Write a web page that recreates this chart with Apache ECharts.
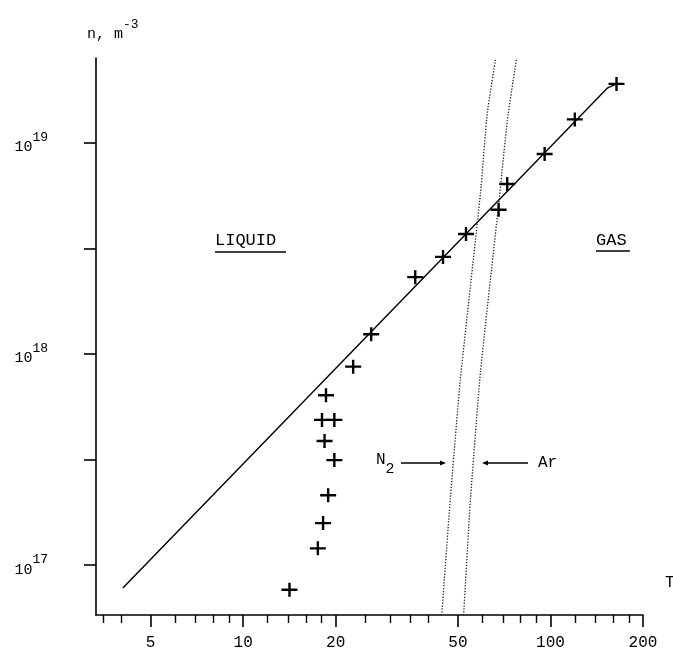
<!DOCTYPE html>
<html>
<head>
<meta charset="utf-8">
<script src="https://cdn.jsdelivr.net/npm/echarts@6/dist/echarts.min.js"></script>
<style>
html,body{margin:0;padding:0;background:#fff;}
#chart{width:673px;height:654px;}
</style>
</head>
<body>
<div id="chart"></div>
<script>
//测量点 T, n(m^-3)
var pointT = [164, 120, 95.7, 72.3, 67.8, 53.1, 44.7, 36.3, 26.1, 22.8, 18.6, 18.05, 19.8, 18.4, 19.8, 18.9, 18.2, 17.5, 14.15];
var pointN = [1.90e19, 1.29e19, 8.85e18, 6.38e18, 4.82e18, 3.70e18, 2.88e18, 2.31e18, 1.24e18, 8.70e17, 6.37e17, 4.87e17, 4.87e17, 3.87e17, 3.14e17, 2.14e17, 1.58e17, 1.20e17, 7.64e16];
//实线
var fitT = [4.06, 153.5, 164];
var fitN = [7.78e16, 1.82e19, 1.90e19];
//虚线 N2 / Ar
var n2T = [66.2, 62.3, 59.2, 50.9, 47.2, 44.2];
var n2N = [2.47e19, 1.39e19, 5.80e18, 7.57e17, 2.05e17, 5.6e16];
var arT = [77.4, 72.4, 67.7, 59.2, 54.9, 52.1];
var arN = [2.47e19, 1.28e19, 4.98e18, 8.27e17, 2.05e17, 5.6e16];
//刻度
var xMajor = [5, 10, 20, 50, 100, 200];
var xMinor = [3.5, 4, 6, 7, 8, 9, 12, 14, 16, 18, 25, 30, 35, 40, 60, 70, 80, 90, 120, 140, 160, 180];
var yTicks = [1e17, 3.162e17, 1e18, 3.162e18, 1e19];
var yLabels = [1e17, 1e18, 1e19];

var FONT = "Liberation Mono";
var INK = "#000";

function lg(v) { return Math.log10(v); }
function pairs(xs, ys) {
	var out = [];
	for (var i = 0; i < xs.length; i++) {
		out.push([lg(xs[i]), lg(ys[i])]);
	}
	return out;
}

var crossPath = 'path://M0,5.8L16,5.8L16,8.2L0,8.2Z M6.8,0L9.2,0L9.2,14L6.8,14Z';

var myChart = echarts.init(document.getElementById('chart'));
var option = {
	backgroundColor: '#fff',
	animation: false,
	grid: { left: 96, right: 30, top: 58, bottom: 39, outerBoundsMode: 'none' },
	xAxis: [{
		type: 'value',
		min: lg(3.32), max: lg(200),
		axisLine: { show: true, lineStyle: { color: INK, width: 1.6 } },
		axisTick: { show: true, length: 12, customValues: xMajor.map(lg), lineStyle: { color: INK, width: 1.6 } },
		axisLabel: {
			customValues: xMajor.map(lg), margin: 20,
			fontFamily: FONT, fontSize: 16, color: INK,
			formatter: function(v) { return String(Math.round(Math.pow(10, v))); }
		},
		splitLine: { show: false }
	}, {
		type: 'value',
		position: 'bottom',
		min: lg(3.32), max: lg(200),
		axisLine: { show: false },
		axisTick: { show: true, length: 8, customValues: xMinor.map(lg), lineStyle: { color: INK, width: 1.4 } },
		axisLabel: { show: false },
		splitLine: { show: false }
	}],
	yAxis: {
		type: 'value',
		min: lg(5.8e16), max: lg(2.52e19),
		axisLine: { show: true, lineStyle: { color: INK, width: 1.6 } },
		axisTick: { show: true, length: 12, customValues: yTicks.map(lg), lineStyle: { color: INK, width: 1.6 } },
		axisLabel: {
			customValues: yLabels.map(lg), margin: 48,
			color: INK,
			formatter: function(v) { return '{b|10}{s|' + Math.round(v) + '}'; },
			rich: {
				b: { fontFamily: FONT, fontSize: 15, color: INK, verticalAlign: 'bottom' },
				s: { fontFamily: FONT, fontSize: 13, color: INK, verticalAlign: 'bottom', padding: [0, 0, 11, 0] }
			}
		},
		splitLine: { show: false }
	},
	series: [{
		name: 'fit',
		type: 'line',
		data: pairs(fitT, fitN),
		showSymbol: false,
		lineStyle: { color: INK, width: 1.4 },
		z: 3
	}, {
		name: 'N2',
		type: 'line',
		data: pairs(n2T, n2N),
		showSymbol: false,
		smooth: 0.15,
		clip: true,
		lineStyle: { color: '#222', width: 1.3, type: [1.3, 1.6] }
	}, {
		name: 'Ar',
		type: 'line',
		data: pairs(arT, arN),
		showSymbol: false,
		smooth: 0.15,
		clip: true,
		lineStyle: { color: '#222', width: 1.3, type: [1.3, 1.6] }
	}, {
		name: 'points',
		type: 'scatter',
		data: pairs(pointT, pointN),
		symbol: crossPath,
		symbolSize: [16, 14],
		itemStyle: { color: INK, opacity: 1 },
		z: 4
	}],
	graphic: [
		{ type: 'text', left: 87, top: 18, style: { rich: {
			a: { fontFamily: FONT, fontSize: 15, fill: INK, verticalAlign: 'bottom' },
			s: { fontFamily: FONT, fontSize: 13, fill: INK, verticalAlign: 'bottom', padding: [0, 0, 11, 0] }
		}, text: '{a|n, m}{s|-3}' } },
		{ type: 'text', left: 215, top: 232, style: { text: 'LIQUID', font: '17px "Liberation Mono"', fill: INK } },
		{ type: 'line', shape: { x1: 215, y1: 252, x2: 286, y2: 252 }, style: { stroke: INK, lineWidth: 1.3 } },
		{ type: 'text', left: 596, top: 232, style: { text: 'GAS', font: '17px "Liberation Mono"', fill: INK } },
		{ type: 'line', shape: { x1: 596, y1: 251, x2: 630, y2: 251 }, style: { stroke: INK, lineWidth: 1.3 } },
		{ type: 'text', left: 376, top: 452, style: { rich: {
			a: { fontFamily: FONT, fontSize: 16, fill: INK, verticalAlign: 'top' },
			s: { fontFamily: FONT, fontSize: 15, fill: INK, verticalAlign: 'top', padding: [10, 0, 0, 0] }
		}, text: '{a|N}{s|2}' } },
		{ type: 'line', shape: { x1: 401, y1: 463, x2: 444, y2: 463 }, style: { stroke: INK, lineWidth: 1.3 } },
		{ type: 'polygon', shape: { points: [[446, 463], [440, 460.5], [440, 465.5]] }, style: { fill: INK } },
		{ type: 'line', shape: { x1: 485, y1: 463, x2: 528, y2: 463 }, style: { stroke: INK, lineWidth: 1.3 } },
		{ type: 'polygon', shape: { points: [[482, 463], [488, 460.5], [488, 465.5]] }, style: { fill: INK } },
		{ type: 'text', left: 538, top: 455, style: { text: 'Ar', font: '16px "Liberation Mono"', fill: INK } },
		{ type: 'text', left: 665, top: 575, style: { text: 'T', font: '16px "Liberation Mono"', fill: INK } }
	]
};
myChart.setOption(option);
</script>
</body>
</html>
